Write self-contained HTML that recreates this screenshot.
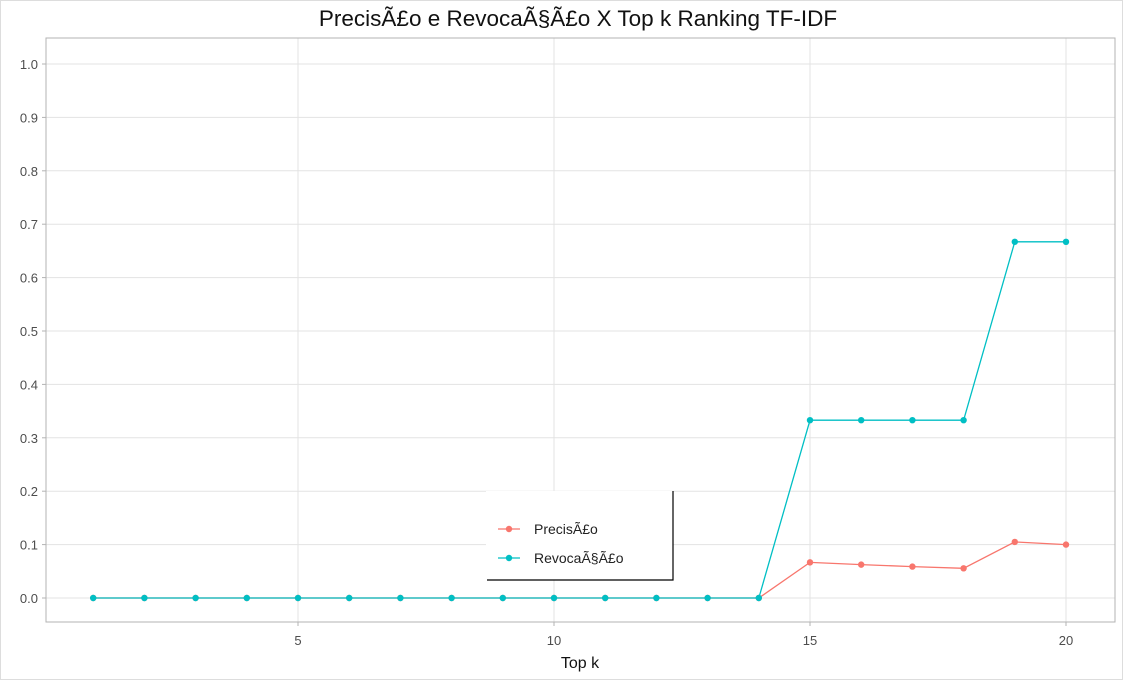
<!DOCTYPE html>
<html><head><meta charset="utf-8"><style>
body{margin:0;background:#fff;}
svg{display:block;font-family:"Liberation Sans",Arial,sans-serif;}
</style></head><body>
<svg id="c" width="1125" height="682">
<rect x="0.5" y="0.5" width="1122" height="679" fill="#fff" stroke="#ddd"/>
<text x="578" y="26" font-size="22.5" text-anchor="middle" fill="#111">PrecisÃ£o e RevocaÃ§Ã£o X Top k Ranking TF-IDF</text>
<g id="grid"></g>
<g id="axes"></g>
<rect x="46" y="38" width="1069" height="584" fill="none" stroke="#b3b3b3"/>
<g id="series"></g>
<g>
<rect x="486" y="491" width="187" height="89" fill="#fff"/>
<path d="M673 491V580H487" fill="none" stroke="#000" stroke-width="1.2"/>
<g>
<line x1="498" y1="529" x2="520" y2="529" stroke="#F8766D" stroke-width="1.2"/><circle cx="509" cy="529" r="3.2" fill="#F8766D"/>
<text x="534" y="534" font-size="14" fill="#222">PrecisÃ£o</text></g>
<g>
<line x1="498" y1="558" x2="520" y2="558" stroke="#00BFC4" stroke-width="1.2"/><circle cx="509" cy="558" r="3.2" fill="#00BFC4"/>
<text x="534" y="563" font-size="14" fill="#222">RevocaÃ§Ã£o</text></g>
</g>
<text x="580" y="668" font-size="16" text-anchor="middle" fill="#111">Top k</text>
</svg>
<script>
const topK=[1,2,3,4,5,6,7,8,9,10,11,12,13,14,15,16,17,18,19,20];
const precision=[0,0,0,0,0,0,0,0,0,0,0,0,0,0,0.0667,0.0625,0.0588,0.0556,0.105,0.1];
const recall=[0,0,0,0,0,0,0,0,0,0,0,0,0,0,0.333,0.333,0.333,0.333,0.667,0.667];
const yTicks=[0,0.1,0.2,0.3,0.4,0.5,0.6,0.7,0.8,0.9,1.0];
const xTicks=[5,10,15,20];
const NS="http://www.w3.org/2000/svg";
const xs=v=>298+(v-5)*51.2;
const ys=v=>598-v*534;
function mk(t,a,p){const e=document.createElementNS(NS,t);for(const k in a)e.setAttribute(k,a[k]);p.appendChild(e);return e;}
const grid=document.getElementById('grid'),axes=document.getElementById('axes'),ser=document.getElementById('series');
yTicks.forEach(v=>{
 const l=mk('line',{x1:46,x2:1115,y1:ys(v),y2:ys(v),stroke:'#e3e3e3'},grid);
 
 
 const t=mk('text',{x:38,y:ys(v)+5,'font-size':13,'text-anchor':'end',fill:'#4d4d4d'},axes);
 t.textContent=v.toFixed(1);
 
 
 mk('line',{x1:42,x2:46,y1:ys(v),y2:ys(v),stroke:'#b3b3b3'},axes);
});
xTicks.forEach(v=>{
 const l=mk('line',{x1:xs(v),x2:xs(v),y1:38,y2:622,stroke:'#e3e3e3'},grid);
 
 
 const t=mk('text',{x:xs(v),y:645,'font-size':13,'text-anchor':'middle',fill:'#4d4d4d'},axes);
 t.textContent=v;
 
 
 mk('line',{x1:xs(v),x2:xs(v),y1:622,y2:626,stroke:'#b3b3b3'},axes);
});
function draw(vals,col,name){
 const p=mk('polyline',{points:topK.map((k,i)=>xs(k)+','+ys(vals[i])).join(' '),fill:'none',stroke:col,'stroke-width':1.3},ser);
 
 
 topK.forEach((k,i)=>{
  const c=mk('circle',{cx:xs(k),cy:ys(vals[i]),r:3.2,fill:col},ser);
  
  
 });
}
draw(precision,'#F8766D','precision');
draw(recall,'#00BFC4','recall');
</script>
</body></html>
